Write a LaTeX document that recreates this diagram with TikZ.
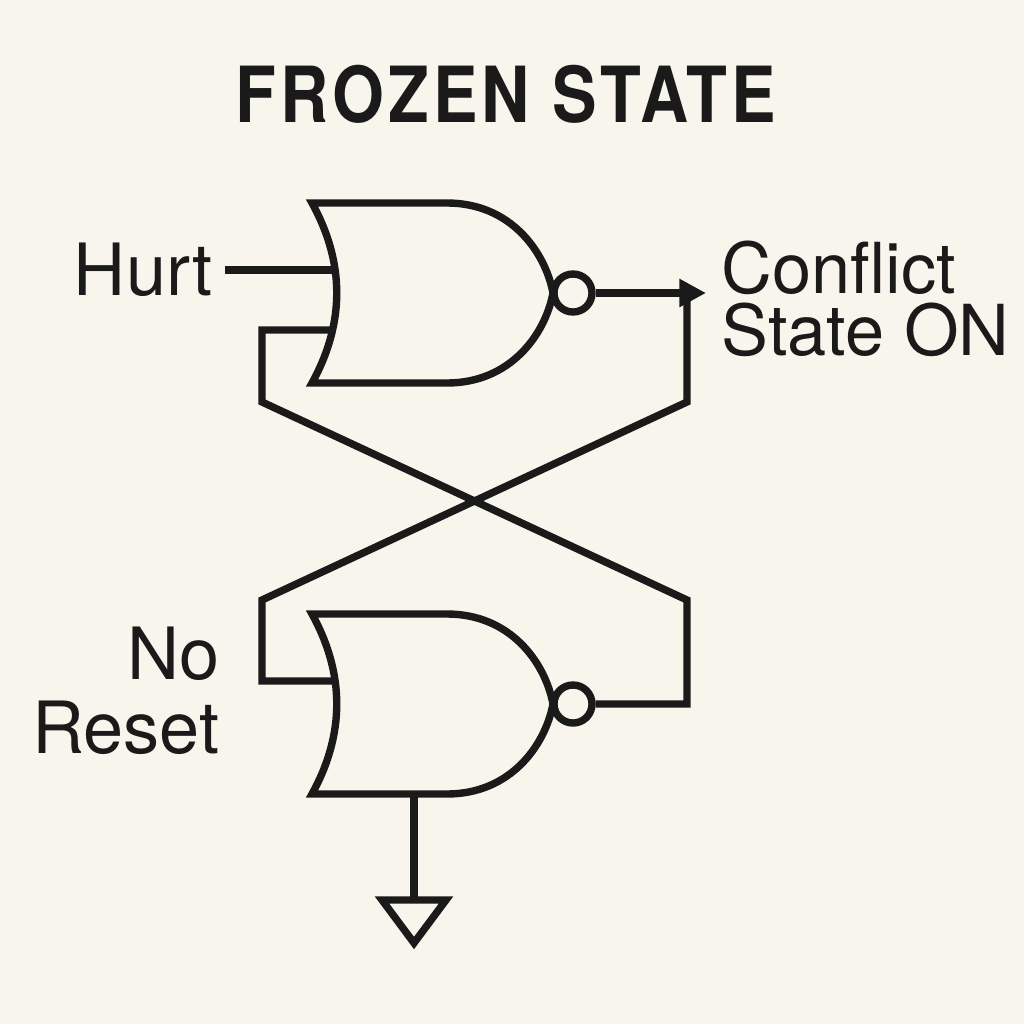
\documentclass[tikz,border=0pt]{standalone}
\usepackage{fontspec}
\setmainfont{TeX Gyre Heros}
\usetikzlibrary{arrows.meta}
\definecolor{paper}{HTML}{F8F5EC}
\definecolor{ink}{HTML}{1A1A1A}
\tikzset{
  >={Triangle[length=7.6pt,width=7.6pt]},
}
\tikzstyle{wire}=[ink,line width=2.1pt,line join=miter]
\tikzstyle{gate}=[ink,line width=2.1pt,line join=miter]
\tikzstyle{bubble}=[circle,draw=ink,line width=2.1pt,inner sep=0pt,minimum size=0.38cm]
\tikzstyle{signal}=[ink,inner sep=0pt,align=left,font=\fontsize{20.5}{17.4}\selectfont]
\tikzstyle{every node}=[text=ink]
% NOR body, top left corner given
\newcommand{\norbody}[1]{%
  \draw[gate,shift={#1}] (0,0) -- (135,0) .. controls (198,0) and (233,48) .. (241,90)
    .. controls (233,132) and (198,180) .. (135,180) -- (0,180)
    .. controls (33,120) and (33,60) .. (0,0) -- cycle;}

\begin{document}
\begin{tikzpicture}[x=0.01cm,y=-0.01cm]
    \fill[paper] (0,0) rectangle (1024,1024);
    \node[anchor=base,font=\bfseries\fontsize{22}{26}\selectfont] (title) at (506,122)
      {\scalebox{0.863}[1]{\addfontfeatures{LetterSpace=6}FROZEN STATE}};
    % gates
    \norbody{(312,203)}
    \norbody{(312,614)}
    \node[bubble] (bub1) at (573,293) {};
    \node[bubble] (bub2) at (573,704) {};
    \coordinate (g1in1) at (335,270);
    \coordinate (g1in2) at (332,330);
    \coordinate (g2in1) at (335,681);
    \coordinate (g2out) at (414,794);
    % labels
    \node[signal,anchor=base east] (hurt) at (213,295) {Hurt};
    \node[signal,anchor=base west,font=\fontsize{20}{17.6}\selectfont] (conflict) at (721,355) {Conflict\\State ON};
    \node[signal,anchor=base east,align=right] (noreset) at (220,753) {No\\[3.6pt]Reset};
    \coordinate (hurtout) at (225,270);
    \coordinate (conflictin) at (706,293);
    \coordinate (gnd) at (414,900);
    % wires
    \draw[wire] (hurtout)--(g1in1);
    \draw[wire,->] (bub1.east)--(conflictin);
    \draw[wire] (g1in2)--(262,330)--(262,402)--(687,600)--(687,704)--(bub2.east);
    \draw[wire] (687,293)--(687,402)--(262,600)--(262,681)--(g2in1);
    \draw[wire] (g2out)--(gnd);
    \draw[wire] (382,900)--(446,900)--(414,943)--cycle;
\end{tikzpicture}
\end{document}
